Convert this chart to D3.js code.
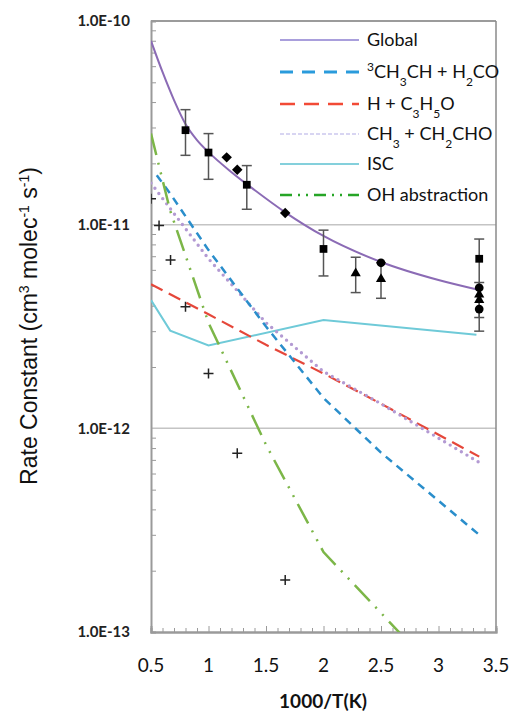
<!DOCTYPE html>
<html><head><meta charset="utf-8">
<script src="https://cdn.jsdelivr.net/npm/d3@7"></script>
<style>body{margin:0;background:#fff}svg{display:block}</style>
</head><body>
<script>
// ---- data ----
const xTicks = [0.5, 1, 1.5, 2, 2.5, 3, 3.5];
const xTickLabels = ["0.5", "1", "1.5", "2", "2.5", "3", "3.5"];
const yTicks = [1e-10, 1e-11, 1e-12, 1e-13];
const yTickLabels = ["1.0E-10", "1.0E-11", "1.0E-12", "1.0E-13"];

const globalX = [0.5, 0.6, 0.7, 0.8, 0.9, 1.0, 1.2, 1.4, 1.667, 2.0, 2.5, 3.0, 3.354];
const globalK = [7.98e-11, 5.62e-11, 4.09e-11, 3.12e-11, 2.60e-11, 2.27e-11, 1.81e-11, 1.48e-11, 1.15e-11, 8.8e-12, 6.56e-12, 5.35e-12, 4.78e-12];

const blueX = [0.55, 0.667, 1.0, 1.5, 2.0, 2.5, 3.354];
const blueK = [1.75e-11, 1.42e-11, 7.5e-12, 3.16e-12, 1.41e-12, 7.6e-13, 3.0e-13];

const redX = [0.5, 1.0, 1.5, 2.0, 2.5, 3.354];
const redK = [5.1e-12, 3.63e-12, 2.57e-12, 1.86e-12, 1.32e-12, 7.26e-13];

const dotX = [0.5, 0.667, 1.0, 1.5, 2.0, 2.5, 3.354];
const dotK = [1.6e-11, 1.2e-11, 6.8e-12, 3.3e-12, 1.9e-12, 1.32e-12, 6.8e-13];

const iscX = [0.5, 0.667, 1.0, 2.0, 3.33];
const iscK = [4.26e-12, 3.02e-12, 2.55e-12, 3.4e-12, 2.88e-12];

const ohX = [0.5, 0.667, 1.0, 1.5, 2.0, 2.5, 3.354];
const ohK = [2.8e-11, 1.17e-11, 3.3e-12, 8.3e-13, 2.47e-13, 1.24e-13, 3.8e-14];

const squareX = [0.8, 1.0, 1.333, 2.0, 3.354];
const squareK = [2.91e-11, 2.26e-11, 1.57e-11, 7.6e-12, 6.8e-12];
const squareLo = [2.19e-11, 1.67e-11, 1.19e-11, 5.6e-12, 3.0e-12];
const squareHi = [3.67e-11, 2.8e-11, 1.95e-11, 9.4e-12, 8.5e-12];

const diamondX = [1.158, 1.25, 1.667];
const diamondK = [2.14e-11, 1.86e-11, 1.14e-11];

const triX = [2.28, 2.5, 3.354, 3.354];
const triK = [5.77e-12, 5.4e-12, 4.54e-12, 4.27e-12];
const triLo = [4.64e-12, 4.35e-12, 3.5e-12, null];
const triHi = [6.92e-12, 6.5e-12, 5.2e-12, null];

const circleX = [2.5, 3.354, 3.354];
const circleK = [6.5e-12, 4.9e-12, 3.85e-12];

const crossX = [0.5, 0.57, 0.67, 0.8, 1.0, 1.25, 1.667];
const crossK = [1.34e-11, 9.9e-12, 6.7e-12, 3.95e-12, 1.86e-12, 7.55e-13, 1.8e-13];

const legendNames = ["Global", "³CH₃CH + H₂CO", "H + C₃H₅O", "CH₃ + CH₂CHO", "ISC", "OH abstraction"];

// ---- layout ----
const W = 511, H = 711;
const L = 151, R = 496, T = 21, B = 632;
const svg = d3.select("body").append("svg").attr("width", W).attr("height", H);
const x = d3.scaleLinear().domain([0.5, 3.5]).range([L, R]);
const y = d3.scaleLog().domain([1e-13, 1e-10]).range([B, T]);

svg.append("defs").append("clipPath").attr("id", "clip")
  .append("rect").attr("x", L).attr("y", T).attr("width", R - L).attr("height", B - T);

// gridlines
svg.append("g").selectAll("line").data([1e-11, 1e-12]).join("line")
  .attr("x1", L).attr("x2", R).attr("y1", d => y(d)).attr("y2", d => y(d))
  .attr("stroke", "#c4c4c4").attr("stroke-width", 1.5);

// frame
svg.append("line").attr("x1", L).attr("x2", R).attr("y1", T).attr("y2", T).attr("stroke", "#7a7a7a").attr("stroke-width", 1.5);
svg.append("line").attr("x1", R).attr("x2", R).attr("y1", T).attr("y2", B).attr("stroke", "#8a8a8a").attr("stroke-width", 1.5);

// y axis with minor ticks inside
const yMinor = [];
[-13, -12, -11].forEach(e => { for (let m = 2; m <= 9; m++) yMinor.push(m * Math.pow(10, e)); });
const yAxis = d3.axisRight(y).tickValues(yMinor).tickSize(5).tickFormat("");
const yg = svg.append("g").attr("transform", `translate(${L},0)`).call(yAxis);
yg.select(".domain").attr("stroke", "#9a9a9a").attr("stroke-width", 2);
yg.selectAll(".tick line").attr("stroke", "#9a9a9a").attr("stroke-width", 1);
// y labels
svg.append("g").selectAll("text").data(yTicks).join("text")
  .attr("x", 130).attr("y", d => y(d)).attr("dy", "0.35em").attr("text-anchor", "end")
  .attr("font-family", "Lato, 'Open Sans', sans-serif").attr("font-size", 15).attr("font-weight", 700).attr("fill", "#222")
  .text((d, i) => yTickLabels[i]);

// x axis with minor ticks
const xMinor = d3.range(6, 35).map(v => v / 10).filter(v => Math.abs(v * 2 - Math.round(v * 2)) > 1e-6);
const xg = svg.append("g").attr("transform", `translate(0,${B})`);
xg.call(d3.axisTop(x).tickValues(xMinor).tickSize(4).tickFormat(""));
xg.append("g").call(d3.axisTop(x).tickValues(xTicks).tickSize(6).tickFormat(""));
xg.selectAll(".domain").attr("stroke", "#9a9a9a").attr("stroke-width", 2);
xg.selectAll(".tick line").attr("stroke", "#9a9a9a").attr("stroke-width", 1);
svg.append("g").selectAll("text").data(xTicks).join("text")
  .attr("x", d => x(d)).attr("y", 672).attr("text-anchor", "middle")
  .attr("font-family", "Lato, 'Open Sans', sans-serif").attr("font-size", 19).attr("fill", "#111")
  .text((d, i) => xTickLabels[i]);

// axis titles
svg.append("text").attr("x", 323).attr("y", 708).attr("text-anchor", "middle")
  .attr("font-family", "Lato, sans-serif").attr("font-size", 19).attr("font-weight", 700).attr("fill", "#111")
  .text("1000/T(K)");
const yt = svg.append("text").attr("transform", "translate(37,326) rotate(-90)").attr("text-anchor", "middle")
  .attr("font-family", "'Liberation Sans', Arial, sans-serif").attr("font-size", 23).attr("fill", "#111");
yt.append("tspan").text("Rate Constant (cm");
yt.append("tspan").attr("font-size", 14).attr("baseline-shift", "super").text("3");
yt.append("tspan").text(" molec");
yt.append("tspan").attr("font-size", 14).attr("baseline-shift", "super").text("-1");
yt.append("tspan").text(" s");
yt.append("tspan").attr("font-size", 14).attr("baseline-shift", "super").text("-1");
yt.append("tspan").text(")");

// series
const plot = svg.append("g").attr("clip-path", "url(#clip)");
const mk = (xs, ks) => xs.map((v, i) => [v, ks[i]]);
const lineLin = d3.line().x(d => x(d[0])).y(d => y(d[1]));
const lineSmooth = d3.line().x(d => x(d[0])).y(d => y(d[1])).curve(d3.curveMonotoneX);

plot.append("path").attr("d", lineLin(mk(iscX, iscK))).attr("fill", "none").attr("stroke", "#6fcad8").attr("stroke-width", 2);
plot.append("path").attr("d", lineLin(mk(redX, redK))).attr("fill", "none").attr("stroke", "#e5473a").attr("stroke-width", 2.2).attr("stroke-dasharray", "13,7");
plot.append("path").attr("d", lineLin(mk(dotX, dotK))).attr("fill", "none").attr("stroke", "#b39ad3").attr("stroke-width", 3.4).attr("stroke-dasharray", "0,6.5").attr("stroke-linecap", "round");
plot.append("path").attr("d", lineLin(mk(blueX, blueK))).attr("fill", "none").attr("stroke", "#2a8ecb").attr("stroke-width", 2.5).attr("stroke-dasharray", "8,6");
plot.append("path").attr("d", lineLin(mk(ohX, ohK))).attr("fill", "none").attr("stroke", "#7cb648").attr("stroke-width", 2.5).attr("stroke-dasharray", "22,8,2,8,2,8");
plot.append("path").attr("d", lineSmooth(mk(globalX, globalK))).attr("fill", "none").attr("stroke", "#8b6bb5").attr("stroke-width", 2);

// error bars
const ebar = (xs, ks, lo, hi) => {
  const g = plot.append("g");
  xs.forEach((v, i) => {
    if (lo[i] == null) return;
    const cx = x(v);
    g.append("line").attr("x1", cx).attr("x2", cx).attr("y1", y(hi[i])).attr("y2", y(lo[i])).attr("stroke", "#555").attr("stroke-width", 1.5);
    [hi[i], lo[i]].forEach(k => g.append("line").attr("x1", cx - 5).attr("x2", cx + 5).attr("y1", y(k)).attr("y2", y(k)).attr("stroke", "#555").attr("stroke-width", 1.5));
  });
};
ebar(squareX, squareK, squareLo, squareHi);
ebar(triX, triK, triLo, triHi);

// markers
const sym = (xs, ks, type, size, fill) => plot.append("g").selectAll("path").data(mk(xs, ks)).join("path")
  .attr("transform", d => `translate(${x(d[0])},${y(d[1])})`)
  .attr("d", d3.symbol().type(type).size(size)).attr("fill", fill);
sym(squareX, squareK, d3.symbolSquare, 60, "#000");
plot.append("g").selectAll("path").data(mk(diamondX, diamondK)).join("path")
  .attr("transform", d => `translate(${x(d[0])},${y(d[1])}) rotate(45)`)
  .attr("d", d3.symbol().type(d3.symbolSquare).size(55)).attr("fill", "#000");
sym(triX, triK, d3.symbolTriangle, 45, "#000");
sym(circleX, circleK, d3.symbolCircle, 60, "#000");
plot.append("g").selectAll("path").data(mk(crossX, crossK)).join("path")
  .attr("transform", d => `translate(${x(d[0])},${y(d[1])})`)
  .attr("d", "M-5,0H5M0,-5V5").attr("stroke", "#222").attr("stroke-width", 1.5);

// legend
const legY = [40, 72, 104, 134, 164, 195];
const legStyles = [
  {c: "#a99fdc", w: 2, d: null},
  {c: "#2a9bdc", w: 3, d: "13,9"},
  {c: "#f24a36", w: 2.5, d: "15,9"},
  {c: "#d8d5f2", w: 2, d: "4,2"},
  {c: "#84d0dc", w: 2, d: null},
  {c: "#26a526", w: 2.5, d: "12,6,2,6,2,6"}
];
const leg = svg.append("g");
legendNames.forEach((n, i) => {
  const s = legStyles[i];
  const ln = leg.append("line").attr("x1", 280).attr("x2", 359).attr("y1", legY[i]).attr("y2", legY[i])
    .attr("stroke", s.c).attr("stroke-width", s.w);
  if (s.d) ln.attr("stroke-dasharray", s.d);
});
const lt = (i) => leg.append("text").attr("x", 367).attr("y", legY[i] + 6)
  .attr("font-family", "Lato, sans-serif").attr("font-size", 18).attr("fill", "#111");
const sub = (t, s) => t.append("tspan").attr("font-size", 12).attr("baseline-shift", "sub").text(s);
const sup = (t, s) => t.append("tspan").attr("font-size", 12).attr("baseline-shift", "super").text(s);
const norm = (t, s) => t.append("tspan").text(s);
lt(0).text("Global");
{ const t = lt(1); sup(t, "3"); norm(t, "CH"); sub(t, "3"); norm(t, "CH + H"); sub(t, "2"); norm(t, "CO"); }
{ const t = lt(2); norm(t, "H + C"); sub(t, "3"); norm(t, "H"); sub(t, "5"); norm(t, "O"); }
{ const t = lt(3); norm(t, "CH"); sub(t, "3"); norm(t, " + CH"); sub(t, "2"); norm(t, "CHO"); }
lt(4).text("ISC");
lt(5).text("OH abstraction");
</script>
</body></html>
